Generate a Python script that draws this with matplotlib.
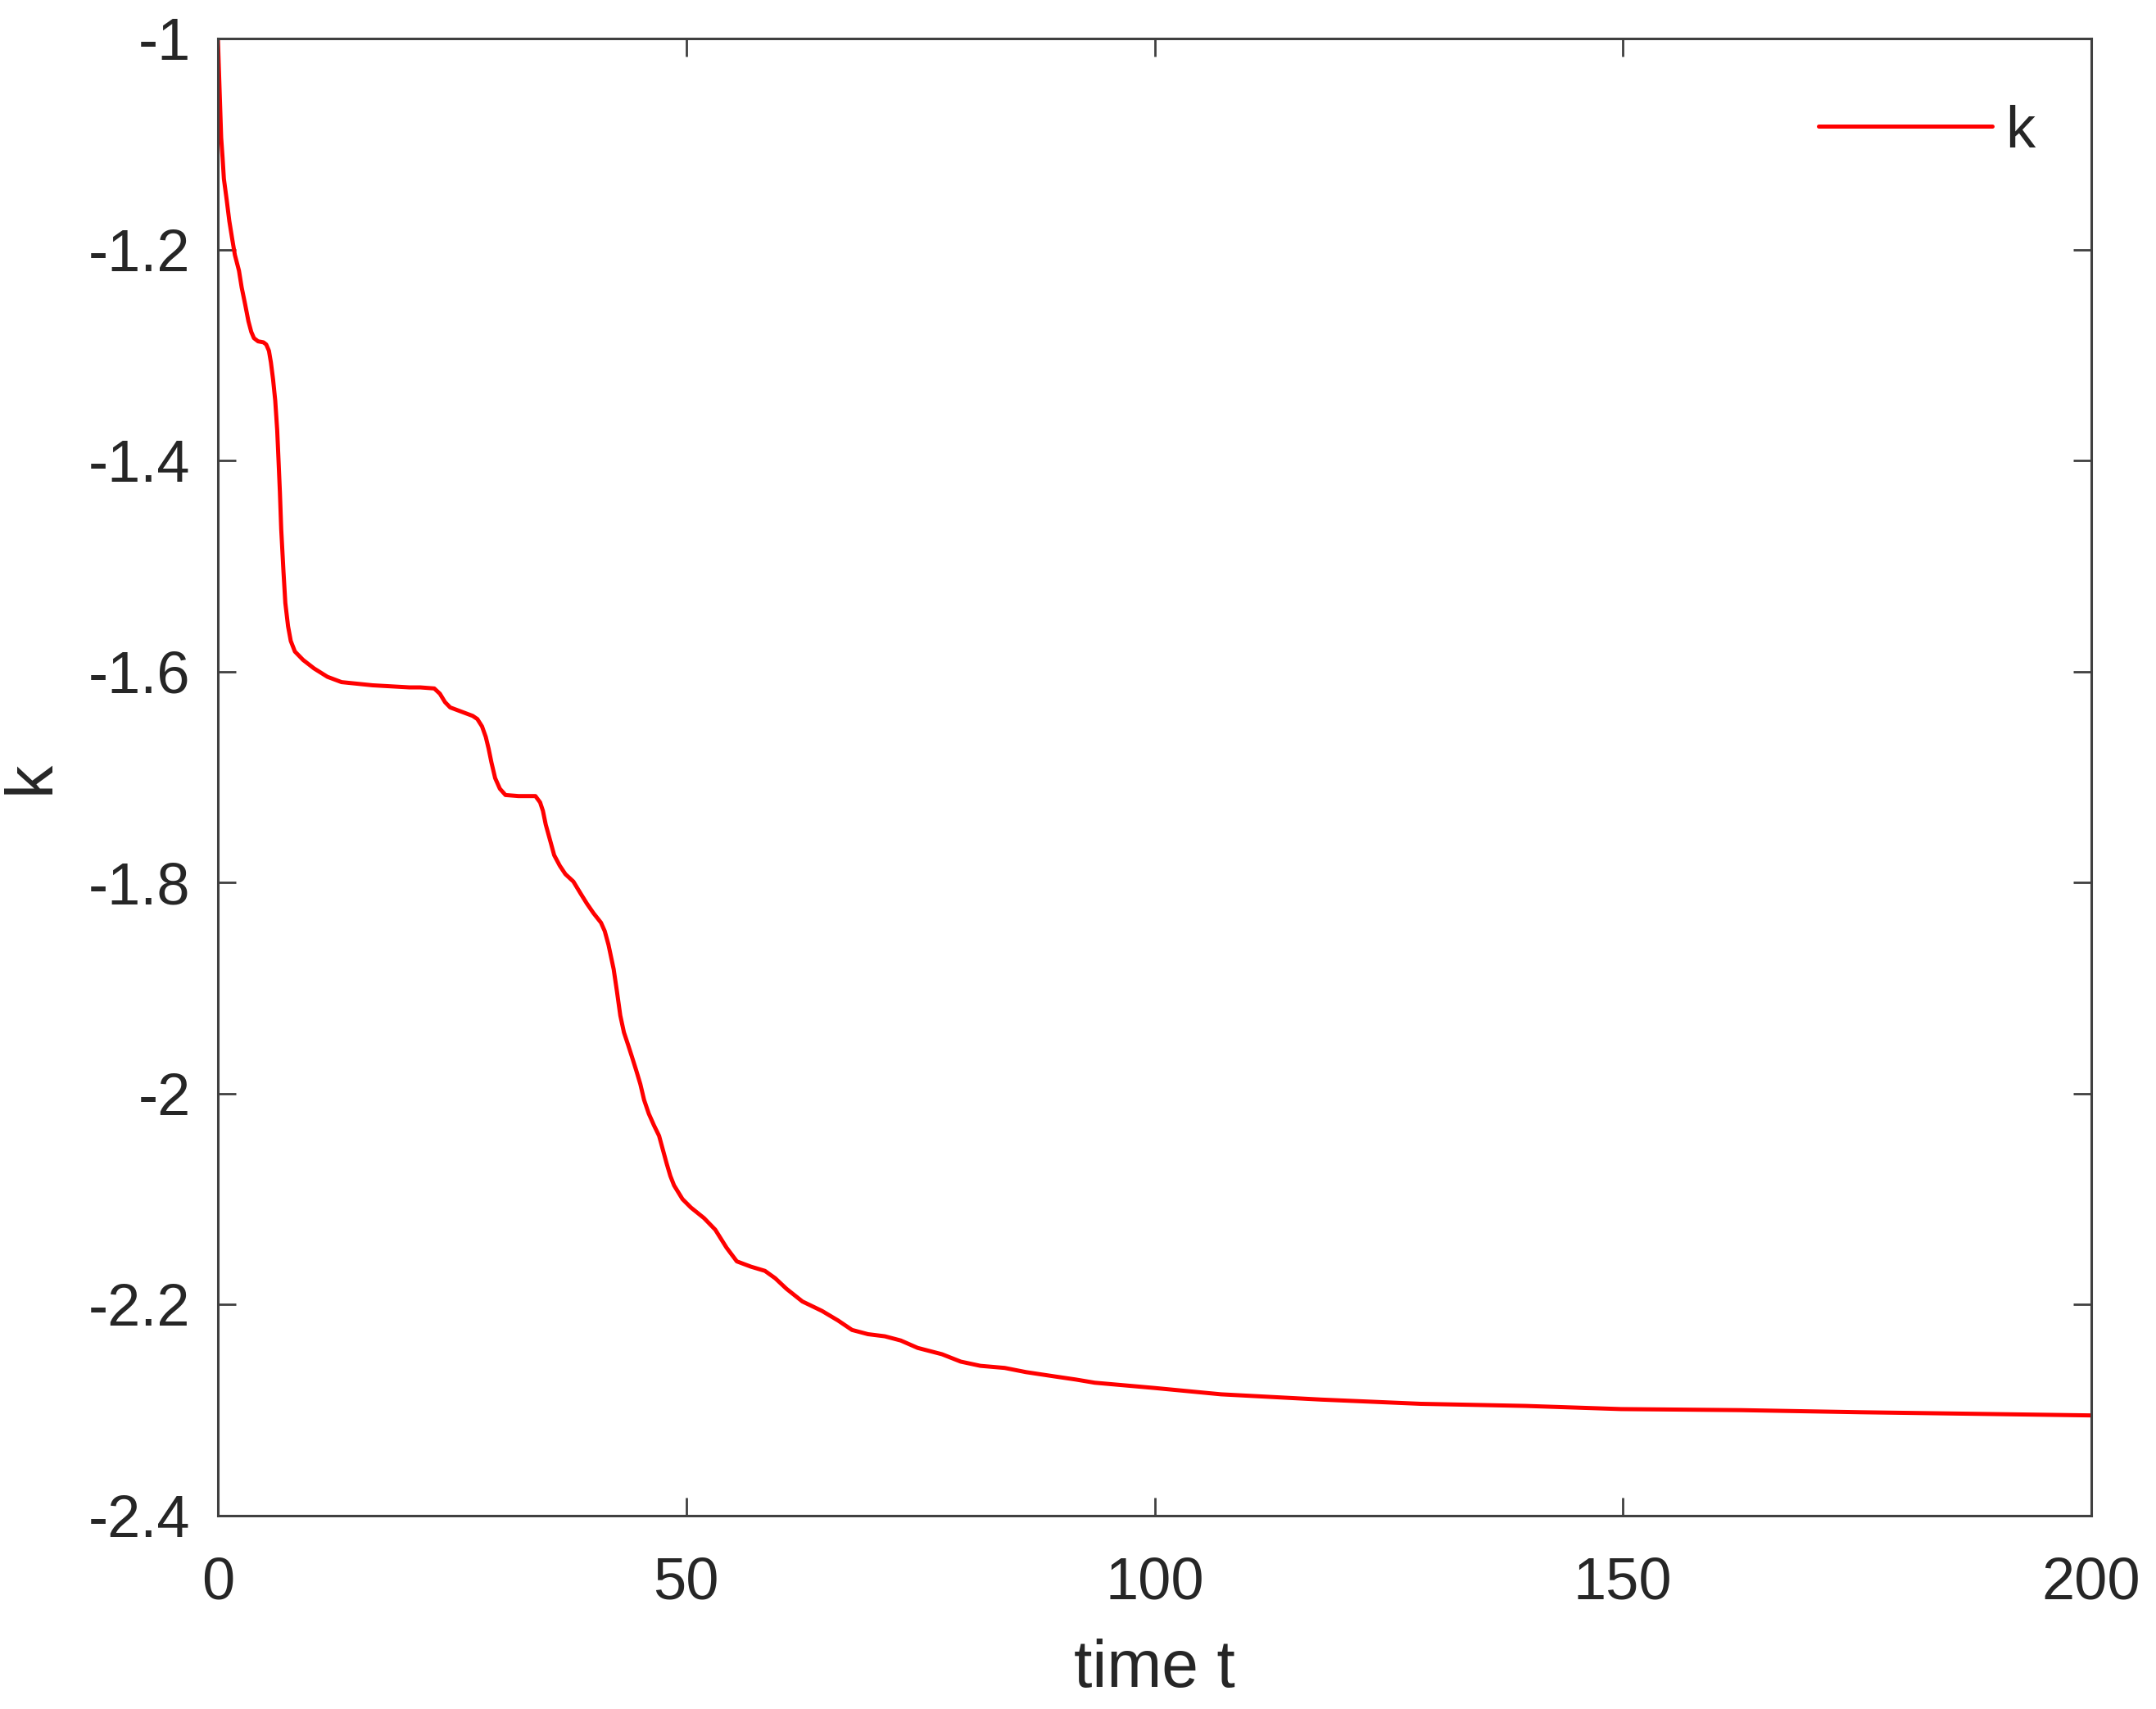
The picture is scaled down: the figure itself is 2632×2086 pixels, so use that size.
import matplotlib
matplotlib.use("Agg")
import matplotlib.pyplot as plt

# ---- data ----
t = [0, 0.2, 0.35, 0.5, 0.64, 0.94, 1.22, 1.51, 1.81, 2.25, 2.54, 2.91, 3.26,
     3.56, 3.85, 4.29, 4.87, 5.16, 5.45, 5.66, 5.89, 6.12, 6.33, 6.47, 6.62,
     6.76, 7.0, 7.2, 7.49, 7.78, 8.22, 9.1, 10.26, 11.7, 13.2, 16.5, 20.46,
     21.6, 23.1, 23.7, 24.25, 24.8, 25.4, 26.3, 27.2, 27.7, 28.2, 28.6, 28.9,
     29.2, 29.6, 30.1, 30.7, 32.1, 33.9, 34.4, 34.7, 35.0, 35.5, 35.9, 36.5,
     37.1, 37.95, 38.7, 39.4, 40.1, 40.9, 41.3, 41.7, 42.25, 42.6, 42.96,
     43.35, 43.8, 44.2, 44.66, 45.1, 45.5, 46.0, 46.55, 47.1, 47.5, 47.9, 48.3,
     48.7, 49.6, 50.5, 51.9, 53.1, 54.3, 55.4, 56.9, 58.4, 59.5, 60.7, 62.4,
     64.5, 66.2, 67.7, 69.4, 71.2, 72.9, 74.7, 77.3, 79.3, 81.4, 84.0, 86.3,
     89.3, 91.6, 93.6, 100, 107.1, 117.8, 128.4, 139.6, 149.8, 162.6, 175.4,
     200]
k = [-1.0, -1.054, -1.094, -1.113, -1.133, -1.153, -1.173, -1.189, -1.205,
     -1.220, -1.236, -1.252, -1.268, -1.278, -1.284, -1.287, -1.288, -1.290,
     -1.296, -1.307, -1.323, -1.343, -1.371, -1.399, -1.430, -1.465, -1.505,
     -1.535, -1.557, -1.571, -1.581, -1.589, -1.597, -1.605, -1.610, -1.613,
     -1.615, -1.615, -1.616, -1.621, -1.629, -1.634, -1.636, -1.639, -1.642,
     -1.645, -1.652, -1.662, -1.673, -1.686, -1.701, -1.711, -1.717, -1.718,
     -1.718, -1.724, -1.732, -1.745, -1.761, -1.774, -1.784, -1.792, -1.799,
     -1.810, -1.820, -1.829, -1.838, -1.846, -1.859, -1.882, -1.903, -1.926,
     -1.942, -1.954, -1.965, -1.978, -1.991, -2.006, -2.019, -2.030, -2.040,
     -2.053, -2.066, -2.078, -2.087, -2.100, -2.108, -2.118, -2.129, -2.146,
     -2.159, -2.164, -2.168, -2.175, -2.185, -2.197, -2.206, -2.215, -2.224,
     -2.228, -2.230, -2.234, -2.241, -2.247, -2.254, -2.258, -2.260, -2.264,
     -2.268, -2.271, -2.274, -2.279, -2.285, -2.290, -2.294, -2.296, -2.299,
     -2.300, -2.302, -2.305]

x_ticks = [0, 50, 100, 150, 200]
x_tick_labels = ["0", "50", "100", "150", "200"]
y_ticks = [-1.0, -1.2, -1.4, -1.6, -1.8, -2.0, -2.2, -2.4]
y_tick_labels = ["-1", "-1.2", "-1.4", "-1.6", "-1.8", "-2", "-2.2", "-2.4"]
series_label = "k"
x_label = "time t"
y_label = "k"

# ---- figure ----
plt.rcParams['font.family'] = ['Liberation Sans', 'DejaVu Sans']
text_color = '#262626'
axis_color = '#404040'

fig = plt.figure(figsize=(13.16, 10.43), dpi=200)
ax = fig.add_axes([266/2632, 1 - 1850/2086, (2553-266)/2632, (1850-47)/2086])

ax.plot(t, k, color='#ff0000', lw=1.8, label=series_label,
        solid_joinstyle='round', solid_capstyle='round')

ax.set_xlim(0, 200)
ax.set_ylim(-2.4, -1.0)
ax.set_xticks(x_ticks)
ax.set_xticklabels(x_tick_labels)
ax.set_yticks(y_ticks)
ax.set_yticklabels(y_tick_labels)

for s in ax.spines.values():
    s.set_color(axis_color)
    s.set_linewidth(1.1)

ax.tick_params(axis='both', which='major', direction='in', length=7.8,
               width=1.0, color=axis_color, labelcolor=text_color,
               labelsize=26, top=True, right=True)
ax.tick_params(axis='x', pad=18)
ax.tick_params(axis='y', pad=12)

ax.set_xlabel(x_label, fontsize=29, color=text_color, va='top')
ax.xaxis.set_label_coords(0.5, -0.083)
ax.set_ylabel(y_label, fontsize=29, color=text_color)
ax.yaxis.set_label_coords(-0.083, 0.5)

leg = ax.legend(loc='center left', bbox_to_anchor=((2220-266)/2287, (1850-161)/1803),
                frameon=False, fontsize=26, handlelength=2.94, handletextpad=0.22,
                borderpad=0, borderaxespad=0)
for txt in leg.get_texts():
    txt.set_color(text_color)

fig.savefig("out.png", dpi=200, facecolor='white')
